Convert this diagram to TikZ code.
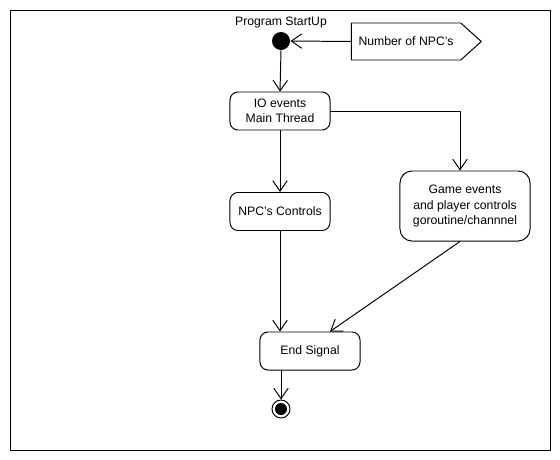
\documentclass[tikz,border=0pt]{standalone}
\usepackage{fontspec}
\setmainfont{Liberation Sans}
\usetikzlibrary{arrows.meta,shapes.symbols,calc}

\begin{document}
\begin{tikzpicture}[line cap=round,line join=round,>={Straight Barb[length=2.6mm,width=3.6mm]},x=0.025cm,y=-0.025cm,line width=0.7pt,font=\fontsize{8.7}{11}\selectfont]
\tikzset{act/.style={draw,rounded corners=2mm,minimum width=2.5cm,minimum height=0.95cm,align=center,inner sep=1pt}}
\useasboundingbox (0,0) rectangle (560,460);
\draw (10,10) rectangle (550,450);
% start and input
\node [circle,fill=black,inner sep=0pt,minimum size=0.45cm] (start) at (281,41) {};
\node (startlbl) at (281,22) {Program StartUp};
\node [draw,signal,signal to=east,signal pointer angle=84,minimum width=3.25cm,minimum height=0.925cm,inner sep=1pt] (npcnum) at (406,41.5) {Number of NPC's};
% activities
\node [act] (io) at (280,111) {IO events\\Main Thread};
\node [act] (npcctl) at (280,211.5) {NPC's Controls};
\node [act,minimum width=3.25cm,minimum height=1.75cm,rounded corners=3mm] (game) at (465,206) {Game events\\and player controls\\goroutine/channnel};
\node [act] (endsig) at (310,351) {End Signal};
% end
\node [circle,draw,inner sep=0pt,minimum size=0.45cm] (stop) at (281,409) {};
\fill (stop) circle (6);
% flows
\draw [->] (npcnum.west) -- (start.east);
\draw [->] (start.south) -- (io.north);
\draw [->] (io.south) -- (npcctl.north);
\draw [->] (io.east) -| ($(game.north)+(-5,0)$);
\draw [->] (npcctl.south) -- (npcctl.south |- endsig.north);
\draw [->] ($(game.south)+(-5,0)$) -- ($(endsig.north)+(20,0)$);
\draw [->] (endsig.south -| stop.north) -- (stop.north);
\end{tikzpicture}
\end{document}
